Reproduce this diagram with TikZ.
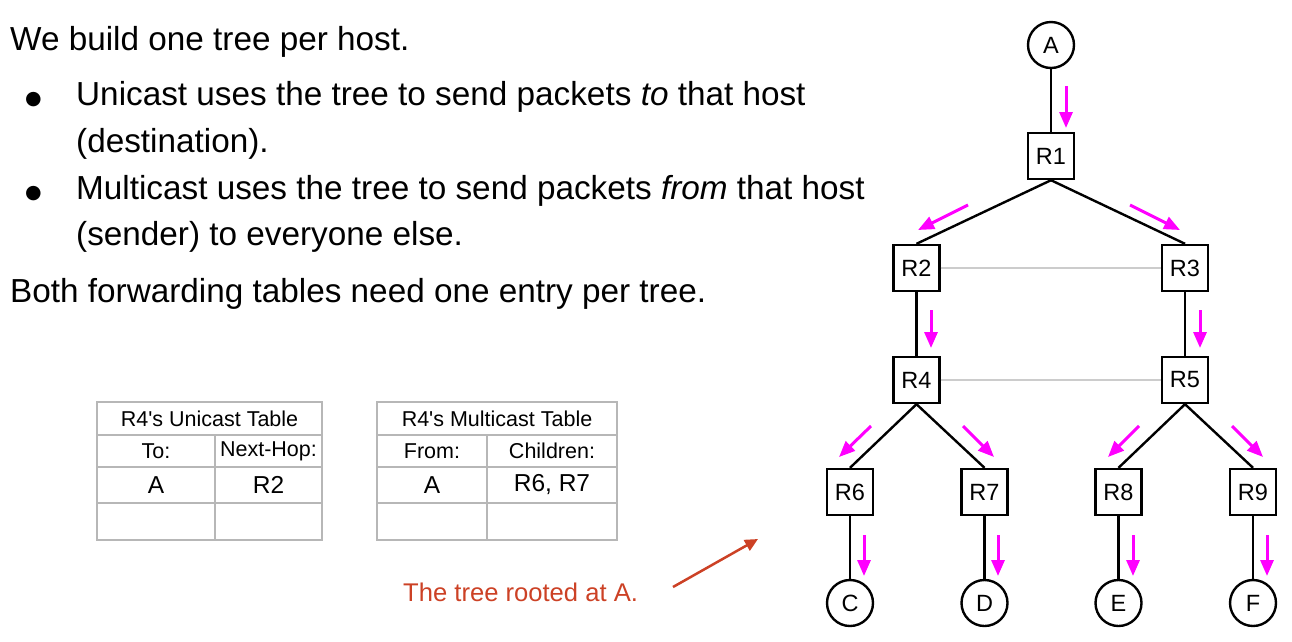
\documentclass[tikz,border=0pt]{standalone}
\usepackage{fontspec}
\setmainfont{Liberation Sans}
\newfontfamily\symfont{DejaVu Sans}
\usetikzlibrary{arrows.meta}
\definecolor{mag}{HTML}{FF00FF}
\definecolor{redtxt}{HTML}{CC4125}
\definecolor{tblgray}{HTML}{B7B7B7}
\definecolor{linkgray}{HTML}{CCCCCC}
\begin{document}
\begin{tikzpicture}[x=1pt,y=-1pt,
  rt/.style={draw,line width=2.4pt,minimum size=46pt,inner sep=0pt,font=\fontsize{23.5}{27}\selectfont},
  host/.style={draw,circle,line width=2.4pt,minimum size=46pt,inner sep=0pt,font=\fontsize{23.5}{27}\selectfont},
  treeedge/.style={line width=2.4pt},
  grayedge/.style={linkgray,line width=1.2pt},
  marr/.style={mag,line width=3pt,-{Triangle[length=16pt,width=13pt]}},
  body/.style={anchor=base west,inner sep=0pt,font=\fontsize{33.3}{38}\selectfont},
  bul/.style={anchor=base west,inner sep=0pt,font=\symfont\fontsize{19}{22}\selectfont},
  tbl/.style={tblgray,line width=1.3pt},
  thead/.style={inner sep=0pt,font=\fontsize{21.5}{25}\selectfont},
  tcell/.style={inner sep=0pt,font=\fontsize{24.5}{28}\selectfont},
]
\useasboundingbox (0,0) rectangle (1292,641);

% ---- text ----
\node[body] (t1) at (10,50) {We build one tree per host.};
\node[bul] (b1) at (25,104) {●};
\node[body] (t2) at (76,105) {Unicast uses the tree to send packets \textit{to} that host};
\node[body] (t3) at (76,152) {(destination).};
\node[bul] (b2) at (25,198) {●};
\node[body] (t4) at (76,199) {Multicast uses the tree to send packets \textit{from} that host};
\node[body] (t5) at (76,245) {(sender) to everyone else.};
\node[body] (t6) at (10,302) {Both forwarding tables need one entry per tree.};

% ---- unicast table ----
\draw[tbl] (97,402) rectangle (322,540);
\draw[tbl] (97,435) -- (322,435);
\draw[tbl] (97,467) -- (322,467);
\draw[tbl] (97,503) -- (322,503);
\draw[tbl] (215,435) -- (215,540);
\node[thead] (u0) at (209.5,418.5) {R4\textquotesingle s Unicast Table};
\node[thead] (u1) at (156,451) {To:};
\node[thead] (u2) at (268.5,451) {Next-Hop:};
\node[tcell] (u3) at (156,485) {A};
\node[tcell] (u4) at (268.5,485) {R2};

% ---- multicast table ----
\draw[tbl] (377,402) rectangle (617,540);
\draw[tbl] (377,435) -- (617,435);
\draw[tbl] (377,467) -- (617,467);
\draw[tbl] (377,503) -- (617,503);
\draw[tbl] (487,435) -- (487,540);
\node[thead] (m0) at (497,418.5) {R4\textquotesingle s Multicast Table};
\node[thead] (m1) at (432,451) {From:};
\node[thead] (m2) at (552,451) {Children:};
\node[tcell] (m3) at (432,485) {A};
\node[tcell] (m4) at (552,485) {R6, R7};

% ---- caption ----
\node[anchor=base west,inner sep=0pt,text=redtxt,font=\fontsize{25.6}{30}\selectfont] (cap) at (403,601) {The tree rooted at A.};
\coordinate (cs) at (673,587);
\coordinate (ce) at (758,539);
\draw[redtxt,line width=2.5pt,-{Triangle[length=13pt,width=12pt]}] (cs) -- (ce);

% ---- tree ----
\node[host] (A) at (1051,45) {A};
\node[rt] (R1) at (1051,156) {R1};
\node[rt] (R2) at (916.5,268) {R2};
\node[rt] (R3) at (1185,268) {R3};
\node[rt] (R4) at (916.5,380) {R4};
\node[rt] (R5) at (1185,380) {R5};
\node[rt] (R6) at (850,492) {R6};
\node[rt] (R7) at (984.5,492) {R7};
\node[rt] (R8) at (1118.5,492) {R8};
\node[rt] (R9) at (1253,492) {R9};
\node[host] (C) at (850,603) {C};
\node[host] (D) at (984.5,603) {D};
\node[host] (E) at (1118.5,603) {E};
\node[host] (F) at (1253,603) {F};

\draw[grayedge] (R2) -- (R3);
\draw[grayedge] (R4) -- (R5);

\draw[treeedge] (A) -- (R1);
\draw[treeedge] (R1.south) -- (R2.north);
\draw[treeedge] (R1.south) -- (R3.north);
\draw[treeedge] (R2) -- (R4);
\draw[treeedge] (R3) -- (R5);
\draw[treeedge] (R4.south) -- (R6.north);
\draw[treeedge] (R4.south) -- (R7.north);
\draw[treeedge] (R5.south) -- (R8.north);
\draw[treeedge] (R5.south) -- (R9.north);
\draw[treeedge] (R6) -- (C);
\draw[treeedge] (R7) -- (D);
\draw[treeedge] (R8) -- (E);
\draw[treeedge] (R9) -- (F);

% ---- magenta flow arrows ----
\coordinate (a1s) at (1066,86);   \coordinate (a1e) at (1066,128);
\coordinate (a2s) at (968,205);   \coordinate (a2e) at (918,230);
\coordinate (a3s) at (1130,205);  \coordinate (a3e) at (1180,230);
\coordinate (a4s) at (931,310);   \coordinate (a4e) at (931,348);
\coordinate (a5s) at (1200,310);  \coordinate (a5e) at (1200,348);
\coordinate (a6s) at (871,426);   \coordinate (a6e) at (839,457);
\coordinate (a7s) at (963,426);   \coordinate (a7e) at (994,457);
\coordinate (a8s) at (1139,426);  \coordinate (a8e) at (1108,457);
\coordinate (a9s) at (1232,426);  \coordinate (a9e) at (1263,457);
\coordinate (a10s) at (864,535);  \coordinate (a10e) at (864,576);
\coordinate (a11s) at (998,535);  \coordinate (a11e) at (998,576);
\coordinate (a12s) at (1133,535); \coordinate (a12e) at (1133,576);
\coordinate (a13s) at (1267,535); \coordinate (a13e) at (1267,576);
\foreach \i in {1,...,13} { \draw[marr] (a\i s) -- (a\i e); }
\end{tikzpicture}
\end{document}
